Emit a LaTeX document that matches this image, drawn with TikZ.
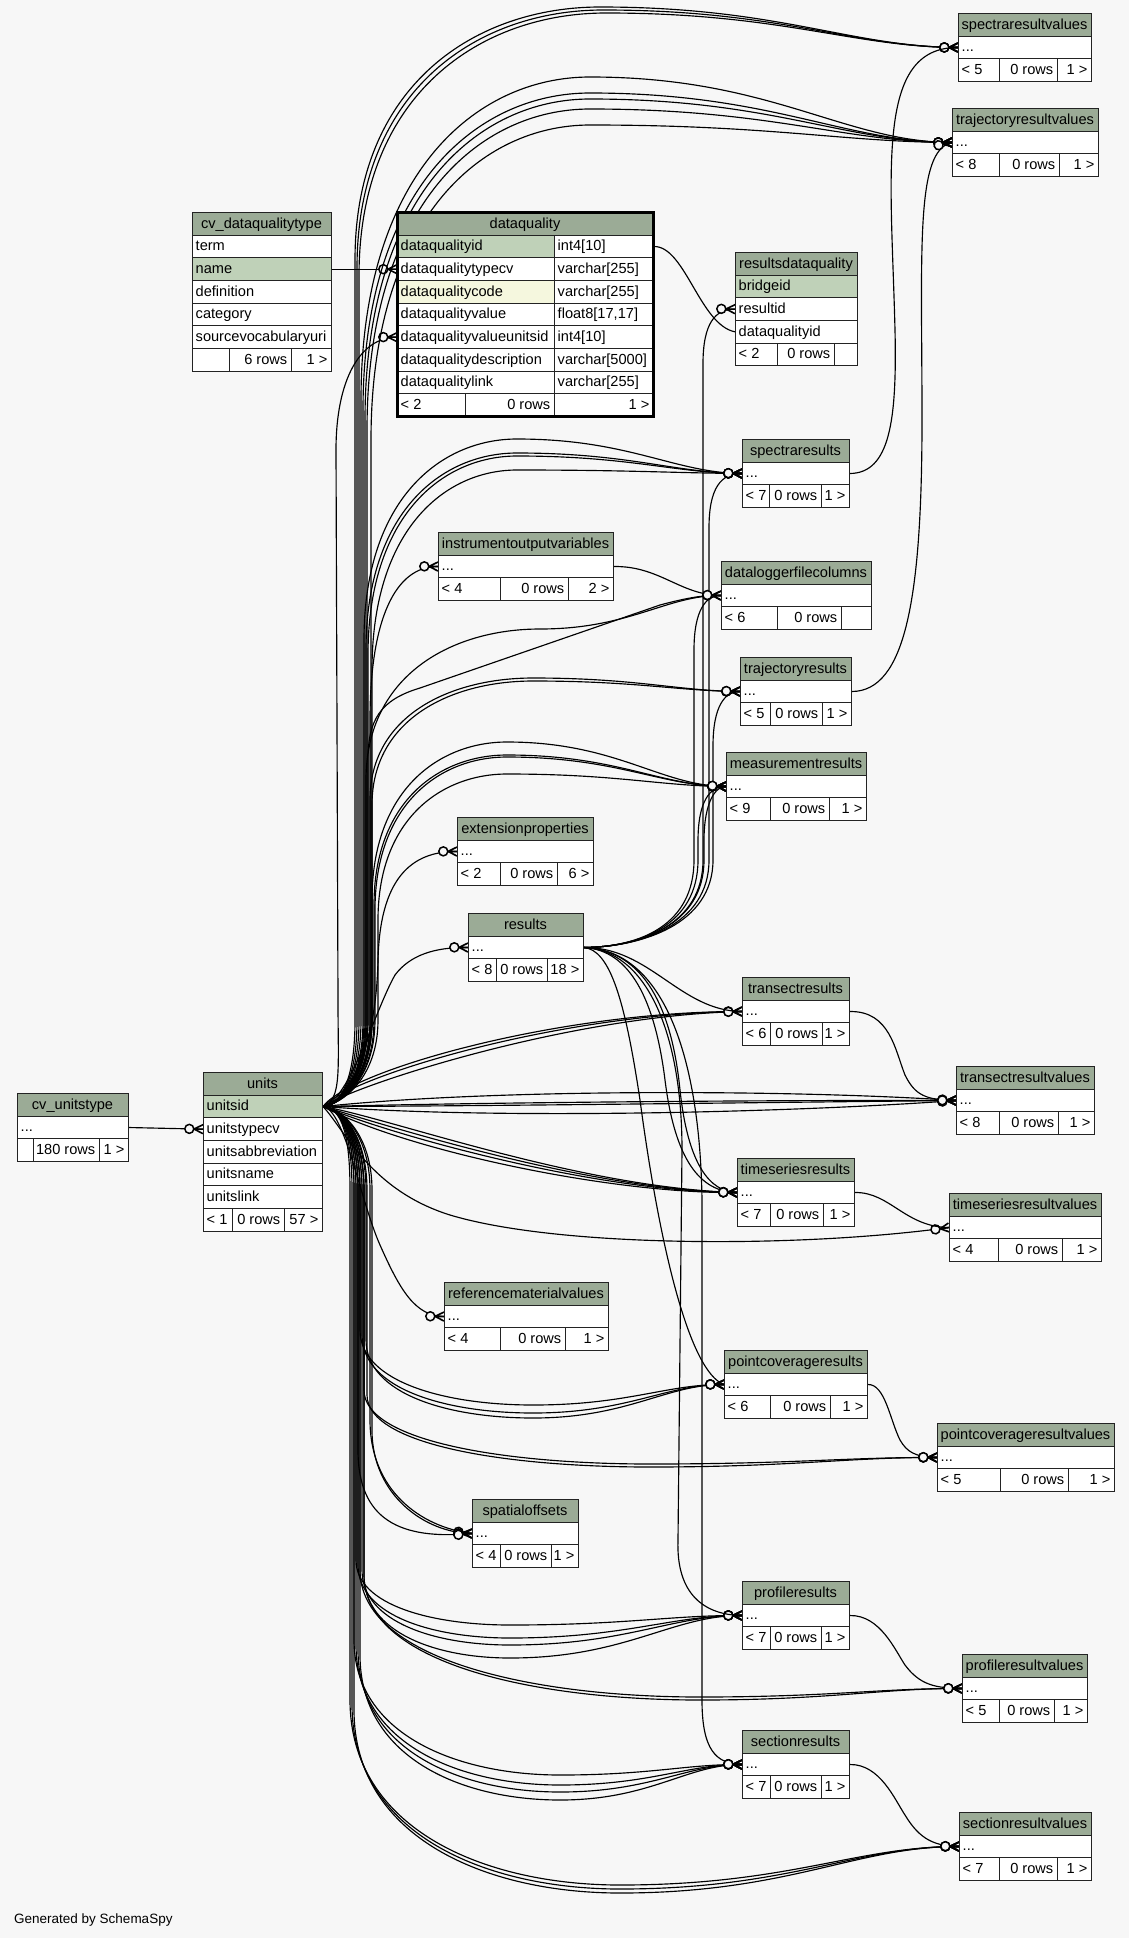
\documentclass[tikz,border=0pt]{standalone}
\usepackage{fontspec}
\setmainfont{Liberation Sans}
\usetikzlibrary{decorations.markings}
\definecolor{bgc}{RGB}{247,247,247}
\definecolor{hdrc}{RGB}{155,171,150}
\definecolor{pkc}{RGB}{191,209,184}
\definecolor{idxc}{RGB}{245,247,222}
\definecolor{bordc}{RGB}{35,35,35}
\newcommand\tf{\fontsize{14.6pt}{17pt}\selectfont}
\pgfdeclarelayer{back}\pgfdeclarelayer{lines}\pgfsetlayers{back,lines,main}
\newcommand\cL[6]{\node[cell,fill=#5,minimum width={#3-#2}] (#1) at (#2,{#4}) {};\node[txt,anchor=base west] (#1-t) at ({#2+3.5},{#4+16.3}) {#6};}
\newcommand\cR[6]{\node[cell,fill=#5,minimum width={#3-#2}] (#1) at (#2,{#4}) {};\node[txt,anchor=base east] (#1-t) at ({#3-3.5},{#4+16.3}) {#6};}
\newcommand\cC[6]{\node[cell,fill=#5,minimum width={#3-#2}] (#1) at (#2,{#4}) {};\node[txt,anchor=base] (#1-t) at ({(#2+#3)/2},{#4+16.3}) {#6};}
\newcommand\stbl[9]{%
 \cC{#1}{#2}{#3}{#4}{hdrc}{#5}%
 \cL{#1-dots}{#2}{#3}{#4+22.67}{white}{...}%
 \cL{#1-f1}{#2}{#6}{#4+45.33}{white}{#8}%
 \cR{#1-f2}{#6}{#7}{#4+45.33}{white}{0 rows}%
 \cR{#1-f3}{#7}{#3}{#4+45.33}{white}{#9}}
% units edges: target, vx, turnY, apexX, apexY, tx, ty
\newcommand\uup[7]{\draw[fk] (units-unitsid.east) .. controls (342,1104) and (#2,1078) .. (#2,1020) -- (#2,#3) .. controls (#2,{#5+0.3*(#3-#5)}) and ({#4-0.5*(#4-#2)},#5) .. (#4,#5) .. controls ({#4+0.5*(#6-#4)},#5) and ({#6-0.3*(#6-#4)},#7) .. (#1);}
\newcommand\udn[7]{\draw[fk] (units-unitsid.east) .. controls (342,1108) and (#2,1135) .. (#2,1190) -- (#2,#3) .. controls (#2,{#5+0.3*(#3-#5)}) and ({#4-0.5*(#4-#2)},#5) .. (#4,#5) .. controls ({#4+0.5*(#6-#4)},#5) and ({#6-0.3*(#6-#4)},#7) .. (#1);}
\newcommand\rup[3]{\draw[fk] (results-dots.east) .. controls (640,947) and (#2,925) .. (#2,860) -- (#2,{#3+55}) .. controls (#2,{#3+15}) and ({#2+12},#3) .. (#1);}
\begin{document}
\begin{tikzpicture}[x=1pt,y=-1pt,
  cell/.style={draw=bordc,line width=1pt,anchor=north west,minimum height=22.67pt,inner sep=0pt},
  txt/.style={inner sep=0pt,font=\tf,text=black},
  rel/.style={line width=1.15pt,draw=black},
  fk/.style={rel,postaction={decorate,decoration={markings,mark=at position 1 with {\draw[line width=1.6pt] (-9,0)--(0,4.5) (-9,0)--(0,-4.5) (-9,0)--(0,0); \draw[line width=1.5pt,fill=bgc] (-13.7,0) circle (4.5);}}}}]
\useasboundingbox (0,0) rectangle (1129,1938);
\begin{pgfonlayer}{back}
\fill[bgc] (0,0) rectangle (1129,1938);
\end{pgfonlayer}

% ---------- tables ----------
\cC{cvdqt}{192}{331}{212}{hdrc}{cv\_dataqualitytype}
\cL{cvdqt-term}{192}{331}{212+22.67}{white}{term}
\cL{cvdqt-name}{192}{331}{212+45.33}{pkc}{name}
\cL{cvdqt-def}{192}{331}{212+68}{white}{definition}
\cL{cvdqt-cat}{192}{331}{212+90.67}{white}{category}
\cL{cvdqt-src}{192}{331}{212+113.33}{white}{sourcevocabularyuri}
\cL{cvdqt-f1}{192}{229}{212+136}{white}{}
\cR{cvdqt-f2}{229}{291}{212+136}{white}{6 rows}
\cR{cvdqt-f3}{291}{331}{212+136}{white}{1 >}

\cC{dataquality}{397}{653}{212}{hdrc}{dataquality}
\cL{dataquality-id}{397}{554}{234.67}{pkc}{dataqualityid}
\cL{dataquality-id-type}{554}{653}{234.67}{white}{int4[10]}
\cL{dataquality-typecv}{397}{554}{257.33}{white}{dataqualitytypecv}
\cL{dataquality-typecv-type}{554}{653}{257.33}{white}{varchar[255]}
\cL{dataquality-code}{397}{554}{280}{idxc}{dataqualitycode}
\cL{dataquality-code-type}{554}{653}{280}{white}{varchar[255]}
\cL{dataquality-value}{397}{554}{302.67}{white}{dataqualityvalue}
\cL{dataquality-value-type}{554}{653}{302.67}{white}{float8[17,17]}
\cL{dataquality-valueunitsid}{397}{554}{325.33}{white}{dataqualityvalueunitsid}
\cL{dataquality-valueunitsid-type}{554}{653}{325.33}{white}{int4[10]}
\cL{dataquality-desc}{397}{554}{348}{white}{dataqualitydescription}
\cL{dataquality-desc-type}{554}{653}{348}{white}{varchar[5000]}
\cL{dataquality-link}{397}{554}{370.67}{white}{dataqualitylink}
\cL{dataquality-link-type}{554}{653}{370.67}{white}{varchar[255]}
\cL{dataquality-f1}{397}{465}{393.33}{white}{< 2}
\cR{dataquality-f2}{465}{554}{393.33}{white}{0 rows}
\cR{dataquality-f3}{554}{653}{393.33}{white}{1 >}
\draw[line width=3pt,black] (397,212) rectangle (653,416);

\cC{rdq}{735}{857}{252}{hdrc}{resultsdataquality}
\cL{rdq-bridgeid}{735}{857}{274.67}{pkc}{bridgeid}
\cL{rdq-resultid}{735}{857}{297.33}{white}{resultid}
\cL{rdq-dqid}{735}{857}{320}{white}{dataqualityid}
\cL{rdq-f1}{735}{777}{342.67}{white}{< 2}
\cR{rdq-f2}{777}{834}{342.67}{white}{0 rows}
\cR{rdq-f3}{834}{857}{342.67}{white}{}

\cC{units}{203}{322}{1072}{hdrc}{units}
\cL{units-unitsid}{203}{322}{1094.67}{pkc}{unitsid}
\cL{units-unitstypecv}{203}{322}{1117.33}{white}{unitstypecv}
\cL{units-abbr}{203}{322}{1140}{white}{unitsabbreviation}
\cL{units-name}{203}{322}{1162.67}{white}{unitsname}
\cL{units-link}{203}{322}{1185.33}{white}{unitslink}
\cL{units-f1}{203}{232}{1208}{white}{< 1}
\cR{units-f2}{232}{284}{1208}{white}{0 rows}
\cR{units-f3}{284}{322}{1208}{white}{57 >}

\cC{cvut}{17}{128}{1093}{hdrc}{cv\_unitstype}
\cL{cvut-dots}{17}{128}{1115.67}{white}{...}
\cL{cvut-f1}{17}{33}{1138.33}{white}{}
\cR{cvut-f2}{33}{99}{1138.33}{white}{180 rows}
\cR{cvut-f3}{99}{128}{1138.33}{white}{1 >}

\stbl{spectraresultvalues}{958}{1091}{13}{spectraresultvalues}{999}{1057}{< 5}{1 >}
\stbl{trajectoryresultvalues}{952}{1098}{108}{trajectoryresultvalues}{999}{1059}{< 8}{1 >}
\stbl{spectraresults}{742}{849}{439}{spectraresults}{769}{821}{< 7}{1 >}
\stbl{instrumentoutputvariables}{438}{613}{532}{instrumentoutputvariables}{500}{568}{< 4}{2 >}
\stbl{dataloggerfilecolumns}{721}{871}{561}{dataloggerfilecolumns}{777}{841}{< 6}{}
\stbl{trajectoryresults}{740}{851}{657}{trajectoryresults}{770}{822}{< 5}{1 >}
\stbl{measurementresults}{726}{866}{752}{measurementresults}{770}{829}{< 9}{1 >}
\stbl{extensionproperties}{457}{593}{817}{extensionproperties}{500}{557}{< 2}{6 >}
\stbl{results}{468}{583}{913}{results}{496}{547}{< 8}{18 >}
\stbl{transectresults}{742}{849}{977}{transectresults}{770}{822}{< 6}{1 >}
\stbl{transectresultvalues}{956}{1094}{1066}{transectresultvalues}{999}{1058}{< 8}{1 >}
\stbl{timeseriesresults}{737}{854}{1158}{timeseriesresults}{770}{823}{< 7}{1 >}
\stbl{timeseriesresultvalues}{949}{1101}{1193}{timeseriesresultvalues}{998}{1062}{< 4}{1 >}
\stbl{referencematerialvalues}{444}{608}{1282}{referencematerialvalues}{500}{565}{< 4}{1 >}
\stbl{pointcoverageresults}{724}{867}{1350}{pointcoverageresults}{770}{830}{< 6}{1 >}
\stbl{pointcoverageresultvalues}{937}{1114}{1423}{pointcoverageresultvalues}{1000}{1068}{< 5}{1 >}
\stbl{spatialoffsets}{472}{578}{1499}{spatialoffsets}{500}{551}{< 4}{1 >}
\stbl{profileresults}{742}{849}{1581}{profileresults}{770}{821}{< 7}{1 >}
\stbl{profileresultvalues}{962}{1087}{1654}{profileresultvalues}{999}{1054}{< 5}{1 >}
\stbl{sectionresults}{742}{849}{1730}{sectionresults}{770}{821}{< 7}{1 >}
\stbl{sectionresultvalues}{959}{1091}{1812}{sectionresultvalues}{999}{1057}{< 7}{1 >}

\node[inner sep=0pt,anchor=west,font=\fontsize{13.5pt}{16pt}\selectfont] (credit) at (14,1920) {Generated by SchemaSpy};

% ---------- connectors ----------
\begin{pgfonlayer}{lines}
\draw[fk] (cvdqt-name.east) -- (dataquality-typecv.west);
\draw[fk] (cvut-dots.east) -- (units-unitstypecv.west);
\draw[fk] (dataquality-id-type.east) .. controls (685,246) and (700,325) .. (rdq-dqid.west);
\draw[fk] (instrumentoutputvariables-dots.east) .. controls (660,566) and (680,595) .. (dataloggerfilecolumns-dots.west);
\draw[fk] (units-unitsid.east) .. controls (342,1100) and (338,1070) .. (338,1000) -- (336,450) .. controls (336,380) and (360,337) .. (dataquality-valueunitsid.west);

\uup{spectraresultvalues-dots.west}{355}{260}{600}{7}{958}{47}
\uup{spectraresultvalues-dots.west}{357}{268}{603}{10}{958}{47}
\uup{spectraresultvalues-dots.west}{359}{276}{606}{13}{958}{47}
\uup{trajectoryresultvalues-dots.west}{361}{400}{590}{77}{952}{142}
\uup{trajectoryresultvalues-dots.west}{363}{410}{590}{93}{952}{142}
\uup{trajectoryresultvalues-dots.west}{365}{420}{590}{99}{952}{142}
\uup{trajectoryresultvalues-dots.west}{367}{430}{590}{109}{952}{142}
\uup{trajectoryresultvalues-dots.west}{371}{440}{590}{125}{952}{142}
\uup{spectraresults-dots.west}{364}{640}{517}{439}{742}{473}
\uup{spectraresults-dots.west}{366}{650}{517}{453}{742}{473}
\uup{spectraresults-dots.west}{368}{655}{517}{456}{742}{473}
\uup{spectraresults-dots.west}{372}{670}{517}{470}{742}{473}
\draw[fk] (units-unitsid.east) .. controls (342,1104) and (370,1078) .. (370,1020) -- (370,720) .. controls (370,620) and (395,566) .. (instrumentoutputvariables-dots.west);
\uup{dataloggerfilecolumns-dots.west}{366}{780}{540}{629}{721}{595}
\draw[fk] (units-unitsid.east) .. controls (342,1104) and (368,1078) .. (368,1020) -- (368,760) .. controls (368,720) and (380,700) .. (420,688) -- (660,605) .. controls (690,597) and (705,595) .. (dataloggerfilecolumns-dots.west);
\uup{trajectoryresults-dots.west}{370}{800}{533}{678}{740}{691}
\uup{trajectoryresults-dots.west}{372}{805}{533}{681}{740}{691}
\uup{measurementresults-dots.west}{372}{900}{507}{742}{726}{786}
\uup{measurementresults-dots.west}{374}{905}{507}{755}{726}{786}
\uup{measurementresults-dots.west}{375}{910}{507}{757}{726}{786}
\uup{measurementresults-dots.west}{378}{920}{507}{774}{726}{786}
\draw[fk] (units-unitsid.east) .. controls (342,1104) and (376,1060) .. (378,960) .. controls (380,880) and (410,851) .. (extensionproperties-dots.west);
\draw[fk] (units-unitsid.east) .. controls (350,1100) and (375,1010) .. (395,975) .. controls (410,955) and (435,947) .. (results-dots.west);
\draw[fk] (units-unitsid.east) .. controls (350,1070) and (560,1011) .. (transectresults-dots.west);
\draw[fk] (units-unitsid.east) .. controls (352,1076) and (560,1013) .. (transectresults-dots.west);
\draw[fk] (units-unitsid.east) .. controls (355,1085) and (570,1015) .. (transectresults-dots.west);
\draw[fk] (units-unitsid.east) .. controls (500,1088) and (800,1090) .. (transectresultvalues-dots.west);
\draw[fk] (units-unitsid.east) .. controls (500,1102) and (800,1100) .. (transectresultvalues-dots.west);
\draw[fk] (units-unitsid.east) .. controls (500,1106) and (800,1102) .. (transectresultvalues-dots.west);
\draw[fk] (units-unitsid.east) .. controls (500,1120) and (800,1112) .. (transectresultvalues-dots.west);
\draw[fk] (units-unitsid.east) .. controls (390,1118) and (580,1188) .. (timeseriesresults-dots.west);
\draw[fk] (units-unitsid.east) .. controls (395,1128) and (590,1190) .. (timeseriesresults-dots.west);
\draw[fk] (units-unitsid.east) .. controls (400,1138) and (600,1192) .. (timeseriesresults-dots.west);
\draw[fk] (units-unitsid.east) .. controls (405,1150) and (610,1194) .. (timeseriesresults-dots.west);
\draw[fk] (units-unitsid.east) .. controls (345,1130) and (370,1190) .. (450,1215) .. controls (560,1248) and (800,1248) .. (timeseriesresultvalues-dots.west);
\draw[fk] (units-unitsid.east) .. controls (345,1110) and (360,1200) .. (380,1245) .. controls (400,1290) and (415,1316) .. (referencematerialvalues-dots.west);
\udn{pointcoverageresults-dots.west}{360}{1330}{533}{1405}{724}{1384}
\udn{pointcoverageresults-dots.west}{362}{1335}{533}{1413}{724}{1384}
\udn{pointcoverageresults-dots.west}{366}{1340}{533}{1418}{724}{1384}
\udn{pointcoverageresultvalues-dots.west}{364}{1390}{650}{1464}{937}{1457}
\udn{pointcoverageresultvalues-dots.west}{367}{1395}{650}{1467}{937}{1457}
\draw[fk] (units-unitsid.east) .. controls (342,1108) and (370,1135) .. (370,1190) -- (370,1420) .. controls (370,1490) and (420,1527) .. (spatialoffsets-dots.west);
\draw[fk] (units-unitsid.east) .. controls (342,1108) and (372,1135) .. (372,1190) -- (372,1430) .. controls (372,1495) and (425,1533) .. (spatialoffsets-dots.west);
\draw[fk] (units-unitsid.east) .. controls (342,1108) and (358,1135) .. (358,1190) -- (358,1450) .. controls (358,1520) and (400,1540) .. (spatialoffsets-dots.west);
\udn{profileresults-dots.west}{356}{1560}{510}{1625}{742}{1615}
\udn{profileresults-dots.west}{358}{1565}{510}{1638}{742}{1615}
\udn{profileresults-dots.west}{362}{1570}{510}{1645}{742}{1615}
\udn{profileresults-dots.west}{364}{1575}{510}{1658}{742}{1615}
\udn{profileresultvalues-dots.west}{360}{1570}{700}{1697}{962}{1688}
\udn{profileresultvalues-dots.west}{364}{1575}{700}{1700}{962}{1688}
\udn{sectionresults-dots.west}{354}{1640}{560}{1775}{742}{1764}
\udn{sectionresults-dots.west}{356}{1645}{560}{1785}{742}{1764}
\udn{sectionresults-dots.west}{358}{1650}{560}{1792}{742}{1764}
\udn{sectionresults-dots.west}{360}{1655}{560}{1800}{742}{1764}
\udn{sectionresultvalues-dots.west}{350}{1700}{620}{1885}{959}{1846}
\udn{sectionresultvalues-dots.west}{352}{1705}{620}{1889}{959}{1846}
\udn{sectionresultvalues-dots.west}{354}{1710}{620}{1893}{959}{1846}

\rup{rdq-resultid.west}{703}{308.7}
\rup{spectraresults-dots.west}{709}{473}
\rup{dataloggerfilecolumns-dots.west}{694}{595}
\rup{trajectoryresults-dots.west}{713}{691}
\rup{measurementresults-dots.west}{698}{786}
\rup{measurementresults-dots.west}{704}{786}
\draw[fk] (results-dots.east) .. controls (650,947) and (680,1011) .. (transectresults-dots.west);
\draw[fk] (results-dots.east) .. controls (630,950) and (655,1000) .. (665,1080) .. controls (675,1160) and (700,1192) .. (timeseriesresults-dots.west);
\draw[fk] (results-dots.east) .. controls (645,950) and (672,1010) .. (680,1090) .. controls (688,1165) and (710,1192) .. (timeseriesresults-dots.west);
\draw[fk] (results-dots.east) .. controls (610,950) and (625,1000) .. (640,1100) .. controls (660,1250) and (690,1372) .. (pointcoverageresults-dots.west);
\draw[fk] (results-dots.east) .. controls (645,950) and (682,1030) .. (682,1150) -- (678,1540) .. controls (676,1595) and (705,1615) .. (profileresults-dots.west);
\draw[fk] (results-dots.east) .. controls (665,950) and (700,1060) .. (702,1200) -- (702,1700) .. controls (702,1750) and (716,1764) .. (sectionresults-dots.west);

\draw[fk] (spectraresults-dots.east) .. controls (890,473) and (897,420) .. (895,330) .. controls (891,170) and (875,47) .. (spectraresultvalues-dots.west);
\draw[fk] (trajectoryresults-dots.east) .. controls (905,691) and (922,600) .. (922,420) .. controls (922,250) and (915,150) .. (trajectoryresultvalues-dots.west);
\draw[fk] (transectresults-dots.east) .. controls (890,1011) and (895,1050) .. (905,1075) .. controls (915,1095) and (925,1100) .. (transectresultvalues-dots.west);
\draw[fk] (timeseriesresults-dots.east) .. controls (890,1192) and (905,1227) .. (timeseriesresultvalues-dots.west);
\draw[fk] (pointcoverageresults-dots.east) .. controls (885,1384) and (890,1420) .. (900,1440) .. controls (907,1452) and (915,1457) .. (pointcoverageresultvalues-dots.west);
\draw[fk] (profileresults-dots.east) .. controls (880,1615) and (895,1650) .. (905,1665) .. controls (920,1685) and (935,1688) .. (profileresultvalues-dots.west);
\draw[fk] (sectionresults-dots.east) .. controls (880,1764) and (895,1800) .. (905,1815) .. controls (920,1840) and (935,1846) .. (sectionresultvalues-dots.west);
\end{pgfonlayer}
\end{tikzpicture}
\end{document}
